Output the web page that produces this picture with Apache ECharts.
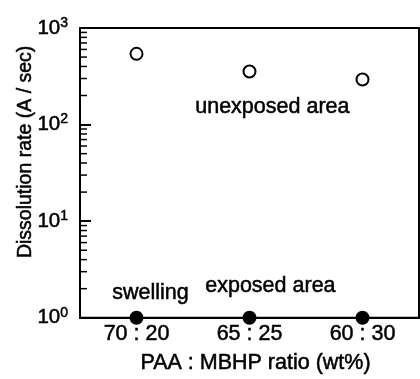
<!DOCTYPE html>
<html lang="en">
  <head>
    <meta charset="UTF-8" />
    <title>Dissolution rate</title>
    <script src="https://cdn.jsdelivr.net/npm/echarts@6/dist/echarts.min.js"></script>
    <style>
      html, body { margin: 0; padding: 0; background: #fff; }
    </style>
  </head>
  <body>
    <div id="main" style="width: 420px; height: 379px"></div>
    <script>
      var ratios = ["70 : 20", "65 : 25", "60 : 30"];
      var unexposed = [540, 354, 293];
      var exposed = [1, 1, 1];
      var minorTicks = [2, 3, 4, 5, 6, 7, 8, 9, 20, 30, 40, 50, 60, 70, 80, 90, 200, 300, 400, 500, 600, 700, 800, 900];

      var font = "Liberation Sans, Arial, sans-serif";
      var fs = 21.5;
      // the scan's lettering is a bit heavier than plain Arial
      var ink = { color: "#000", fontFamily: font, textBorderColor: "#000", textBorderWidth: 0.5 };

      function txt(extra) {
        return Object.assign({}, ink, extra);
      }

      var chart = echarts.init(document.getElementById("main"));

      var option = {
        animation: false,
        textStyle: { fontFamily: font, color: "#000" },
        grid: {
          left: 80,
          right: 1,
          top: 28,
          bottom: 58,
          show: true,
          borderColor: "#000",
          borderWidth: 2
        },
        xAxis: {
          type: "category",
          data: ratios,
          axisLine: { lineStyle: { color: "#000", width: 2 } },
          axisTick: { show: false },
          axisLabel: txt({ fontSize: fs, margin: 5 }),
          name: "PAA : MBHP ratio (wt%)",
          nameLocation: "middle",
          nameGap: 34,
          nameMoveOverlap: false,
          nameTextStyle: txt({ fontSize: fs, verticalAlign: "top", padding: [0, 0, 0, 12] })
        },
        yAxis: {
          type: "log",
          logBase: 10,
          min: 1,
          max: 1000,
          splitLine: { show: false },
          axisLine: { show: true, lineStyle: { color: "#000", width: 2 } },
          axisTick: { show: true, inside: true, length: 11, lineStyle: { color: "#000", width: 2 } },
          axisLabel: {
            margin: 12,
            formatter: function (v) {
              return "{a|10}{b|" + Math.round(Math.log10(v)) + "}";
            },
            rich: {
              a: txt({ fontSize: 20.5, lineHeight: 24 }),
              b: txt({ fontSize: 14, lineHeight: 14, verticalAlign: "top" })
            }
          },
          name: "Dissolution rate (A / sec)",
          nameLocation: "middle",
          nameGap: 44,
          nameMoveOverlap: false,
          nameRotate: 90,
          nameTextStyle: txt({ fontSize: 19.5, padding: [0, 0, 0, 42] })
        },
        graphic: [
          { type: "text", left: 195, top: 96, style: { text: "unexposed area", fontSize: fs, fontFamily: font, fill: "#000", stroke: "#000", lineWidth: 0.5 } },
          { type: "text", left: 112, top: 282, style: { text: "swelling", fontSize: fs, fontFamily: font, fill: "#000", stroke: "#000", lineWidth: 0.5 } },
          { type: "text", left: 205, top: 275, style: { text: "exposed area", fontSize: fs, fontFamily: font, fill: "#000", stroke: "#000", lineWidth: 0.5 } }
        ],
        series: [
          {
            type: "custom",
            silent: true,
            clip: false,
            data: minorTicks.map(function (v) { return [0, v]; }),
            encode: { x: 0, y: 1 },
            renderItem: function (params, api) {
              var p = api.coord([0, api.value(1)]);
              var x0 = p[0] - api.size([1, 0])[0] / 2;
              return {
                type: "line",
                shape: { x1: x0, y1: p[1], x2: x0 + 7, y2: p[1] },
                style: { stroke: "#000", lineWidth: 1.5 }
              };
            }
          },
          {
            name: "unexposed area",
            type: "scatter",
            data: unexposed,
            symbol: "emptyCircle",
            symbolSize: 12,
            clip: false,
            itemStyle: { color: "#000", borderColor: "#000", borderWidth: 2.5, opacity: 1 }
          },
          {
            name: "exposed area",
            type: "scatter",
            data: exposed,
            symbol: "circle",
            symbolSize: 14,
            clip: false,
            z: 5,
            itemStyle: { color: "#000", opacity: 1 }
          }
        ]
      };

      chart.setOption(option);
    </script>
  </body>
</html>
